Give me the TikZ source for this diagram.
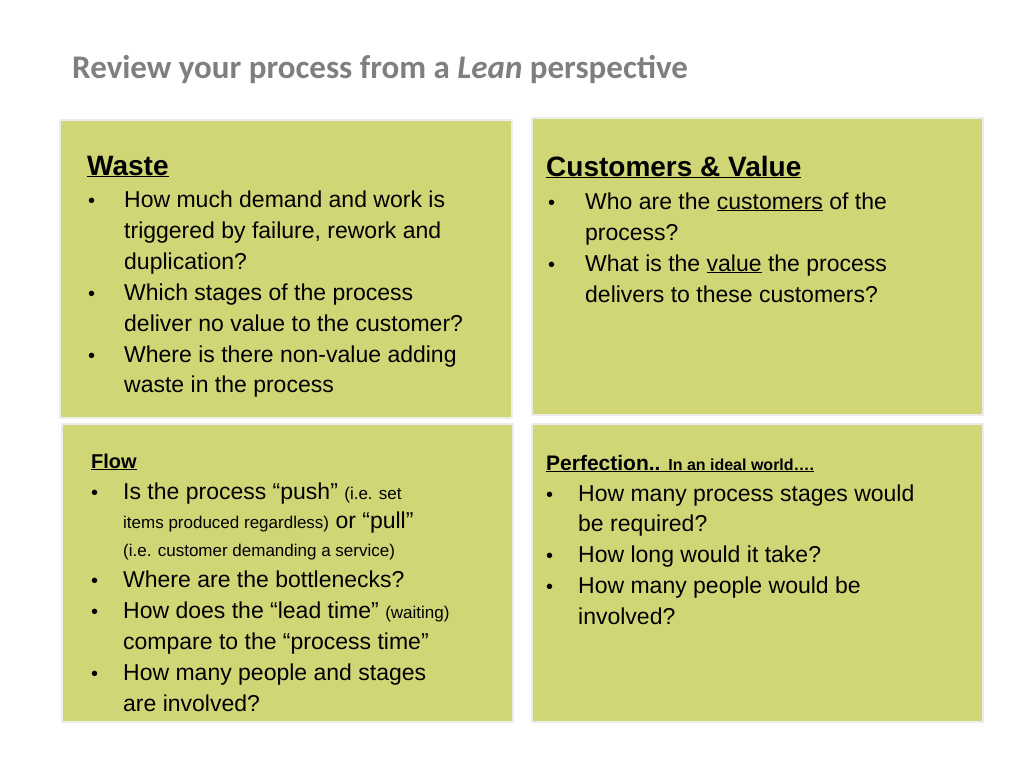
\documentclass[tikz,border=0pt]{standalone}
\usepackage{fontspec}
\setmainfont{Liberation Sans}
\newfontfamily\titlefont{Carlito}
\definecolor{boxc}{RGB}{208,214,118}
\definecolor{titc}{RGB}{127,127,127}
\begin{document}
\begin{tikzpicture}[x=1pt,y=-1pt,
  box/.style={fill=boxc,draw=white!85!gray,line width=1.5pt},
  ln/.style={anchor=base west,inner sep=0pt,font=\fontsize{23}{27}\selectfont},
  bl/.style={anchor=base west,inner sep=0pt,font=\fontsize{20}{24}\selectfont}]
\useasboundingbox (0,0) rectangle (1024,768);
\node[anchor=base west,inner sep=0pt,text=titc,font=\titlefont\bfseries\fontsize{33}{38}\selectfont] (title) at (72,78) {Review your process from a \textit{Lean} perspective};
\draw[box] (60,120) rectangle (512,418);
\draw[box] (532,118) rectangle (983,415);
\draw[box] (62,424) rectangle (513,722);
\draw[box] (532,424) rectangle (983,722);
% Waste
\node[ln,font=\bfseries\fontsize{28}{32}\selectfont] (wh) at (87,175) {\underline{Waste}};
\foreach \y in {207,300,362}{\node[bl] at (88,\y) {•};}
\node[ln] (w1) at (124,207) {How much demand and work is};
\node[ln] (w2) at (124,238) {triggered by failure, rework and};
\node[ln] (w3) at (124,269) {duplication?};
\node[ln] (w4) at (124,300) {Which stages of the process};
\node[ln] (w5) at (124,331) {deliver no value to the customer?};
\node[ln] (w6) at (124,362) {Where is there non-value adding};
\node[ln] (w7) at (124,392) {waste in the process};
% Customers
\node[ln,font=\bfseries\fontsize{28}{32}\selectfont] (ch) at (546,176) {\underline{Customers \& Value}};
\foreach \y in {209,271}{\node[bl] at (548,\y) {•};}
\node[ln] (c1) at (585,209) {Who are the \underline{customers} of the};
\node[ln] (c2) at (585,240) {process?};
\node[ln] (c3) at (585,271) {What is the \underline{value} the process};
\node[ln] (c4) at (585,302) {delivers to these customers?};
% Flow
\node[ln,font=\bfseries\fontsize{20}{24}\selectfont] (fh) at (91,468) {\underline{Flow}};
\foreach \y in {499,587,618,680}{\node[bl] at (91,\y) {•};}
\node[ln] (f1) at (123,499) {Is the process “push” {\fontsize{17}{20}\selectfont(i.e. set}};
\node[ln] (f2) at (123,528) {{\fontsize{17}{20}\selectfont items produced regardless)} or “pull”};
\node[ln,font=\fontsize{17}{20}\selectfont] (f3) at (123,556) {(i.e. customer demanding a service)};
\node[ln] (f4) at (123,587) {Where are the bottlenecks?};
\node[ln] (f5) at (123,618) {How does the “lead time” {\fontsize{17}{20}\selectfont(waiting)}};
\node[ln] (f6) at (123,649) {compare to the “process time”};
\node[ln] (f7) at (123,680) {How many people and stages};
\node[ln] (f8) at (123,711) {are involved?};
% Perfection
\node[ln,font=\bfseries\fontsize{21}{24}\selectfont] (ph) at (546,470) {\underline{Perfection.. {\fontsize{16}{19}\selectfont In an ideal world….}}};
\foreach \y in {501,562,593}{\node[bl] at (546,\y) {•};}
\node[ln] (p1) at (578,501) {How many process stages would};
\node[ln] (p2) at (578,531) {be required?};
\node[ln] (p3) at (578,562) {How long would it take?};
\node[ln] (p4) at (578,593) {How many people would be};
\node[ln] (p5) at (578,624) {involved?};
\end{tikzpicture}
\end{document}
